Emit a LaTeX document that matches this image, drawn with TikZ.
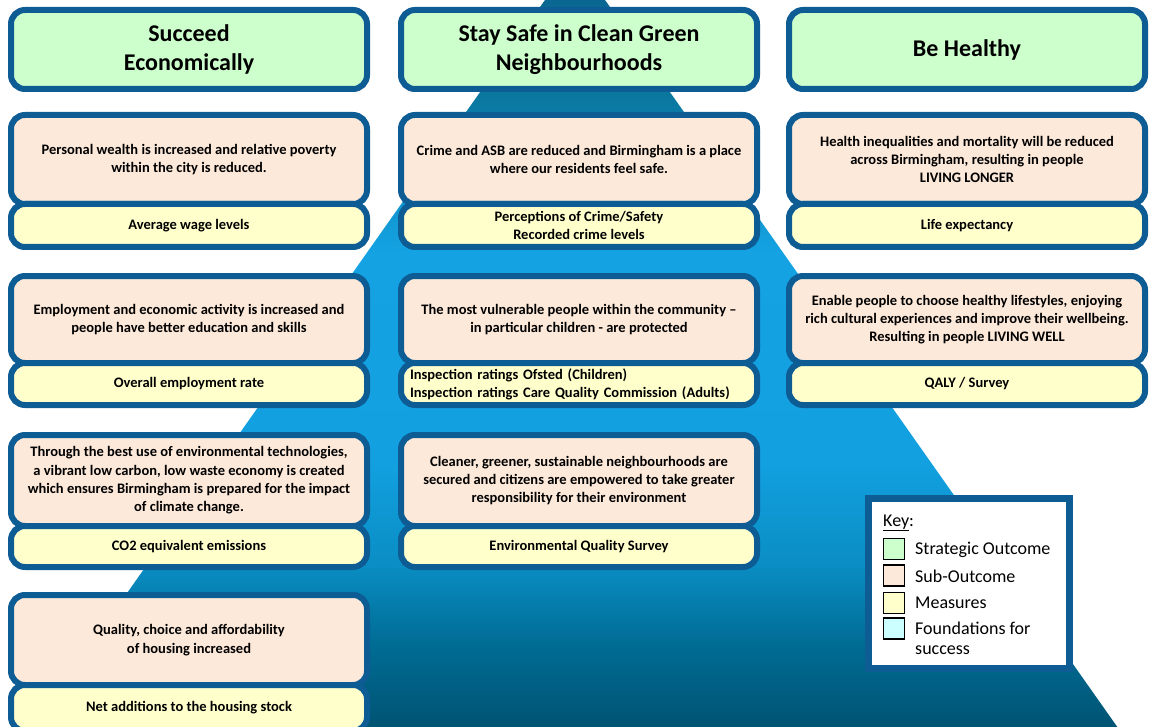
\documentclass[tikz,border=0pt]{standalone}
\usepackage{fontspec}
\setmainfont{Carlito}

\definecolor{frame}{HTML}{0D5C94}
\definecolor{stratfill}{HTML}{CCFFCC}
\definecolor{subfill}{HTML}{FDE9D9}
\definecolor{measfill}{HTML}{FFFFCC}
\definecolor{foundfill}{HTML}{CCFFFF}
% pyramid gradient, bottom to top
\definecolor{pyA}{HTML}{004E6C}
\definecolor{pyB}{HTML}{006C94}
\definecolor{pyC}{HTML}{0A8EC4}
\definecolor{pyD}{HTML}{12A0E0}
\definecolor{pyE}{HTML}{14A2E2}
\definecolor{pyF}{HTML}{0E86B8}
\definecolor{pyG}{HTML}{0A78A0}
\definecolor{pyH}{HTML}{0A6690}

\pgfdeclareverticalshading{pyramidshade}{100bp}{%
  color(0bp)=(pyA); color(25bp)=(pyA); color(31.7bp)=(pyB);
  color(37.1bp)=(pyC); color(43.8bp)=(pyD); color(57.9bp)=(pyE);
  color(65.3bp)=(pyF); color(68bp)=(pyG); color(75bp)=(pyH);
  color(100bp)=(pyH)}

\newcommand\ttlfnt{\fontsize{24}{29}\selectfont\bfseries}
\newcommand\bodyfnt{\fontsize{14.5}{18.3}\selectfont\bfseries}
\newcommand\keyfnt{\fontsize{18}{21}\selectfont}

\tikzset{
  box/.style={draw=frame, line width=6pt, rounded corners=14pt, inner sep=4pt,
    align=center, text=black, minimum width=356pt},
  strat/.style={box, fill=stratfill, minimum height=79pt, font=\ttlfnt},
  subout/.style={box, fill=subfill, font=\bodyfnt},
  meas/.style={box, fill=measfill, font=\bodyfnt},
  keyframe/.style={draw=frame, line width=7pt, fill=white, minimum width=201pt,
    minimum height=170pt, inner sep=0pt},
  swatch/.style={draw=black, line width=1.8pt, minimum size=21pt, inner sep=0pt},
  keytext/.style={anchor=west, font=\keyfnt, inner sep=0pt},
}

\begin{document}
\begin{tikzpicture}[x=1pt, y=-1pt]
\path[use as bounding box] (0,0) rectangle (1150,727);
\fill[white] (0,0) rectangle (1150,727);
\clip (0,0) rectangle (1150,727);

% background pyramid
\shade[shading=pyramidshade]
  (548.5,-5) -- (601.5,-5) -- (1130,745) -- (20,745) -- cycle;

% strategic outcomes
\node[strat] (s1) at (189,49.5) {Succeed\\Economically};
\node[strat] (s2) at (579,49.5) {Stay Safe in Clean Green\\Neighbourhoods};
\node[strat] (s3) at (967,49.5) {Be Healthy};

% row 1
\node[subout, minimum height=89pt] (a1) at (189,159.5)
  {Personal wealth is increased and relative poverty\\within the city is reduced.};
\node[meas, minimum height=43pt] (m1) at (189,225.5) {Average wage levels};
\node[subout, minimum height=89pt] (b1) at (579,159.5)
  {Crime and ASB are reduced and Birmingham is a place\\where our residents feel safe.};
\node[meas, minimum height=43pt] (n1) at (579,225.5)
  {Perceptions of Crime/Safety\\Recorded crime levels};
\node[subout, minimum height=89pt] (c1) at (967,159.5)
  {Health inequalities and mortality will be reduced\\across Birmingham, resulting in people\\LIVING LONGER};
\node[meas, minimum height=43pt] (o1) at (967,225.5) {Life expectancy};

% row 2
\node[subout, minimum height=87pt] (a2) at (189,319.5)
  {Employment and economic activity is increased and\\people have better education and skills};
\node[meas, minimum height=42pt] (m2) at (189,384) {Overall employment rate};
\node[subout, minimum height=87pt] (b2) at (579,319.5)
  {The most vulnerable people within the community --\\in particular children - are protected};
\node[meas, minimum height=42pt, align=left, text width=338pt] (n2) at (579,384)
  {Inspection ratings Ofsted (Children)\\Inspection ratings Care Quality Commission (Adults)};
\node[subout, minimum height=87pt] (c2) at (967,319.5)
  {Enable people to choose healthy lifestyles, enjoying\\rich cultural experiences and improve their wellbeing.\\Resulting in people LIVING WELL};
\node[meas, minimum height=42pt] (o2) at (967,384) {QALY / Survey};

% row 3
\node[subout, minimum height=91pt] (a3) at (189,480.5)
  {Through the best use of environmental technologies,\\a vibrant low carbon, low waste economy is created\\which ensures Birmingham is prepared for the impact\\of climate change.};
\node[meas, minimum height=41pt] (m3) at (189,546.5) {CO2 equivalent emissions};
\node[subout, minimum height=91pt] (b3) at (579,480.5)
  {Cleaner, greener, sustainable neighbourhoods are\\secured and citizens are empowered to take greater\\responsibility for their environment};
\node[meas, minimum height=41pt] (n3) at (579,546.5) {Environmental Quality Survey};

% row 4
\node[subout, minimum height=90pt] (a4) at (189,640)
  {Quality, choice and affordability\\of housing increased};
\node[meas, minimum height=46pt] (m4) at (189,708) {Net additions to the housing stock};

% key
\node[keyframe] (key) at (969,583.5) {};
\node[keytext] (keyhead) at (883,523) {\underline{Key}:};
\node[swatch, fill=stratfill] (k1) at (894,549) {};
\node[swatch, fill=subfill] (k2) at (894,575.5) {};
\node[swatch, fill=measfill] (k3) at (894,603) {};
\node[swatch, fill=foundfill] (k4) at (894,628.5) {};
\node[keytext] (t1) at (915,550) {Strategic Outcome};
\node[keytext] (t2) at (915,576) {Sub-Outcome};
\node[keytext] (t3) at (915,603) {Measures};
\node[keytext] (t4) at (915,628) {Foundations for};
\node[keytext] (t5) at (915,650) {success};
\end{tikzpicture}
\end{document}
